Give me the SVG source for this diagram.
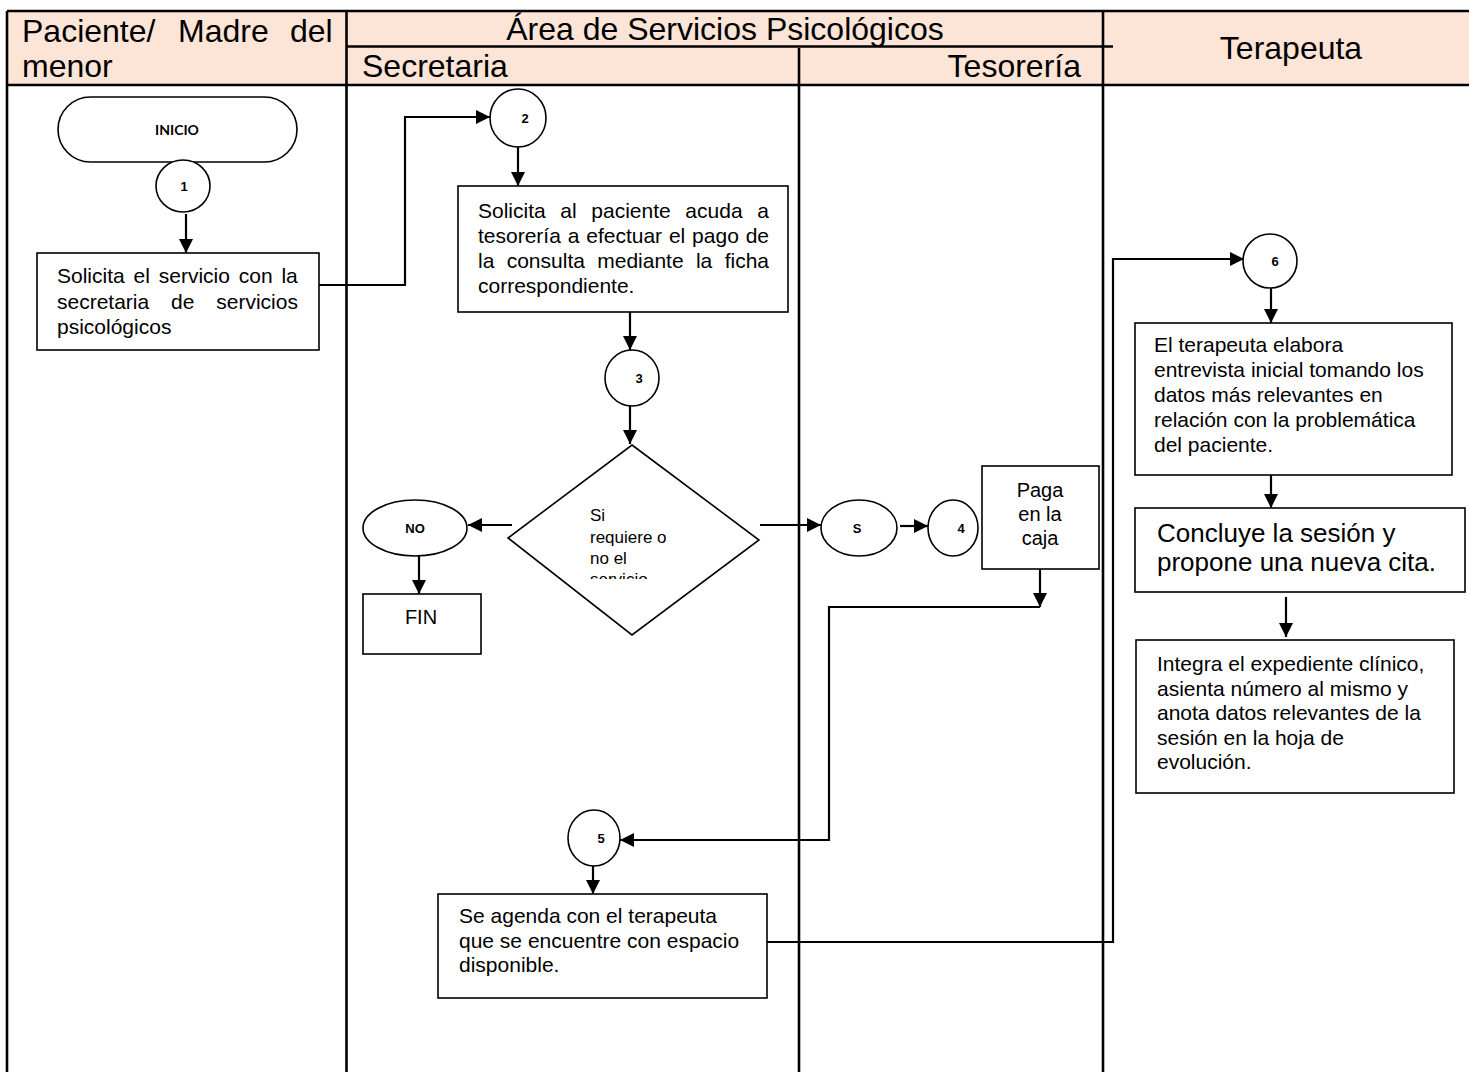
<svg xmlns="http://www.w3.org/2000/svg" width="1469" height="1072" viewBox="0 0 1469 1072">
  <defs>
    <marker id="arrow" markerUnits="userSpaceOnUse" markerWidth="14" markerHeight="14" viewBox="0 0 14 14" refX="14" refY="7" orient="auto">
      <path d="M0,0 L14,7 L0,14 z" fill="#000"/>
    </marker>
    <clipPath id="diamondText">
      <rect x="580" y="500" width="120" height="79"/>
    </clipPath>
    <style>
      .lane { stroke: #000; stroke-width: 2.6; fill: none; }
      .head { font-family: "Liberation Sans", Arial, sans-serif; font-size: 32px; fill: #000; }
      .box { fill: #fff; stroke: #000; stroke-width: 1.6; }
      .txt { font-family: "Liberation Sans", Arial, sans-serif; font-size: 21px; fill: #000; }
      .big { font-family: "Liberation Sans", Arial, sans-serif; font-size: 26px; fill: #000; }
      .tag { font-family: "Liberation Sans", Arial, sans-serif; font-size: 13px; font-weight: bold; fill: #000; }
      .cal { font-family: Lato, "Liberation Sans", sans-serif; font-size: 14px; font-weight: bold; fill: #000; }
      .conn { stroke: #000; stroke-width: 2.2; fill: none; }
    </style>
  </defs>

  <rect width="1469" height="1072" fill="#fff"/>

  <!-- swimlane header -->
  <g id="header">
    <rect x="7" y="11" width="1462" height="74" fill="#fce4d6"/>
    <line class="lane" x1="7" y1="11" x2="1469" y2="11"/>
    <line class="lane" x1="7" y1="85" x2="1469" y2="85"/>
    <line class="lane" x1="346" y1="46.5" x2="1113" y2="46.5"/>
    <line class="lane" x1="7" y1="11" x2="7" y2="1072"/>
    <line class="lane" x1="346.5" y1="11" x2="346.5" y2="1072"/>
    <line class="lane" x1="799" y1="48" x2="799" y2="1072"/>
    <line class="lane" x1="1103" y1="11" x2="1103" y2="1072"/>
    <text class="head" x="22" y="42">Paciente/</text>
    <text class="head" x="178" y="42">Madre</text>
    <text class="head" x="290" y="42">del</text>
    <text class="head" x="22" y="77">menor</text>
    <text class="head" x="725" y="40" text-anchor="middle">Área de Servicios Psicológicos</text>
    <text class="head" x="362" y="77">Secretaria</text>
    <text class="head" x="1081" y="77" text-anchor="end">Tesorería</text>
    <text class="head" x="1291" y="59" text-anchor="middle">Terapeuta</text>
  </g>

  <!-- connectors -->
  <g id="connectors">
    <line class="conn" x1="186" y1="214" x2="186" y2="253" marker-end="url(#arrow)"/>
    <polyline class="conn" points="319,285 405,285 405,117 490,117" marker-end="url(#arrow)"/>
    <line class="conn" x1="518" y1="147" x2="518" y2="186" marker-end="url(#arrow)"/>
    <line class="conn" x1="630" y1="312" x2="630" y2="350" marker-end="url(#arrow)"/>
    <line class="conn" x1="630" y1="405" x2="630" y2="444" marker-end="url(#arrow)"/>
    <line class="conn" x1="512" y1="525" x2="468" y2="525" marker-end="url(#arrow)"/>
    <line class="conn" x1="419" y1="556" x2="419" y2="594" marker-end="url(#arrow)"/>
    <line class="conn" x1="760" y1="525" x2="821" y2="525" marker-end="url(#arrow)"/>
    <line class="conn" x1="900" y1="526" x2="928" y2="526" marker-end="url(#arrow)"/>
    <line class="conn" x1="1040" y1="569" x2="1040" y2="607" marker-end="url(#arrow)"/>
    <polyline class="conn" points="1040,607 829,607 829,840 620,840" marker-end="url(#arrow)"/>
    <line class="conn" x1="593" y1="866" x2="593" y2="894" marker-end="url(#arrow)"/>
    <polyline class="conn" points="767,942 1113,942 1113,259 1244,259" marker-end="url(#arrow)"/>
    <line class="conn" x1="1271" y1="288" x2="1271" y2="323" marker-end="url(#arrow)"/>
    <line class="conn" x1="1271" y1="469" x2="1271" y2="508" marker-end="url(#arrow)"/>
    <line class="conn" x1="1286" y1="597" x2="1286" y2="637" marker-end="url(#arrow)"/>
  </g>

  <!-- start terminal -->
  <g id="inicio">
    <rect class="box" x="58" y="97" width="239" height="65" rx="32.5"/>
    <text class="cal" x="177" y="135" text-anchor="middle">INICIO</text>
  </g>

  <g id="c1">
    <ellipse class="box" cx="183" cy="186" rx="27" ry="26"/>
    <text class="tag" x="184" y="191" text-anchor="middle">1</text>
  </g>

  <g id="solicita">
    <rect class="box" x="37" y="253" width="282" height="97"/>
    <text class="txt" x="57" y="283" word-spacing="3">Solicita el servicio con la</text>
    <text class="txt" x="57" y="309" word-spacing="16">secretaria de servicios</text>
    <text class="txt" x="57" y="334">psicológicos</text>
  </g>

  <g id="c2">
    <ellipse class="box" cx="518" cy="118" rx="28" ry="29"/>
    <text class="tag" x="525" y="123" text-anchor="middle">2</text>
  </g>

  <g id="pago">
    <rect class="box" x="458" y="186" width="330" height="126"/>
    <text class="txt" x="478" y="218" word-spacing="8.8">Solicita al paciente acuda a</text>
    <text class="txt" x="478" y="243" word-spacing="1">tesorería a efectuar el pago de</text>
    <text class="txt" x="478" y="268" word-spacing="6.5">la consulta mediante la ficha</text>
    <text class="txt" x="478" y="293">correspondiente.</text>
  </g>

  <g id="c3">
    <ellipse class="box" cx="632" cy="378" rx="27" ry="28"/>
    <text class="tag" x="639" y="383" text-anchor="middle">3</text>
  </g>

  <g id="decision">
    <polygon class="box" points="632,445 759,540 632,635 508,538"/>
    <g clip-path="url(#diamondText)">
      <text class="txt" x="590" y="521" style="font-size:17px">Si</text>
      <text class="txt" x="590" y="543" style="font-size:17px">requiere o</text>
      <text class="txt" x="590" y="564" style="font-size:17px">no el</text>
      <text class="txt" x="590" y="585" style="font-size:17px">servicio</text>
    </g>
  </g>

  <g id="no">
    <ellipse class="box" cx="415" cy="528" rx="52" ry="28"/>
    <text class="tag" x="415" y="533" text-anchor="middle">NO</text>
  </g>

  <g id="fin">
    <rect class="box" x="363" y="594" width="118" height="60"/>
    <text class="txt" x="421" y="624" text-anchor="middle" style="font-size:20px">FIN</text>
  </g>

  <g id="si">
    <ellipse class="box" cx="859" cy="528" rx="38" ry="28"/>
    <text class="tag" x="857" y="533" text-anchor="middle">S</text>
  </g>

  <g id="c4">
    <ellipse class="box" cx="953" cy="528" rx="25" ry="28"/>
    <text class="tag" x="961" y="533" text-anchor="middle">4</text>
  </g>

  <g id="caja">
    <rect class="box" x="982" y="466" width="117" height="103"/>
    <text class="txt" x="1040" y="497" text-anchor="middle" style="font-size:20px">Paga</text>
    <text class="txt" x="1040" y="521" text-anchor="middle" style="font-size:20px">en la</text>
    <text class="txt" x="1040" y="545" text-anchor="middle" style="font-size:20px">caja</text>
  </g>

  <g id="c5">
    <ellipse class="box" cx="594" cy="838" rx="26" ry="28"/>
    <text class="tag" x="601" y="843" text-anchor="middle">5</text>
  </g>

  <g id="agenda">
    <rect class="box" x="438" y="894" width="329" height="104"/>
    <text class="txt" x="459" y="923">Se agenda con el terapeuta</text>
    <text class="txt" x="459" y="948">que se encuentre con espacio</text>
    <text class="txt" x="459" y="972">disponible.</text>
  </g>

  <g id="c6">
    <ellipse class="box" cx="1270" cy="261" rx="27" ry="27"/>
    <text class="tag" x="1275" y="266" text-anchor="middle">6</text>
  </g>

  <g id="entrevista">
    <rect class="box" x="1135" y="323" width="317" height="152"/>
    <text class="txt" x="1154" y="352">El terapeuta elabora</text>
    <text class="txt" x="1154" y="377">entrevista inicial tomando los</text>
    <text class="txt" x="1154" y="402">datos más relevantes en</text>
    <text class="txt" x="1154" y="427">relación con la problemática</text>
    <text class="txt" x="1154" y="452">del paciente.</text>
  </g>

  <g id="concluye">
    <rect class="box" x="1135" y="508" width="330" height="84"/>
    <text class="big" x="1157" y="542">Concluye la sesión y</text>
    <text class="big" x="1157" y="571">propone una nueva cita.</text>
  </g>

  <g id="expediente">
    <rect class="box" x="1136" y="640" width="318" height="153"/>
    <text class="txt" x="1157" y="671">Integra el expediente clínico,</text>
    <text class="txt" x="1157" y="696">asienta número al mismo y</text>
    <text class="txt" x="1157" y="720">anota datos relevantes de la</text>
    <text class="txt" x="1157" y="745">sesión en la hoja de</text>
    <text class="txt" x="1157" y="769">evolución.</text>
  </g>
</svg>
